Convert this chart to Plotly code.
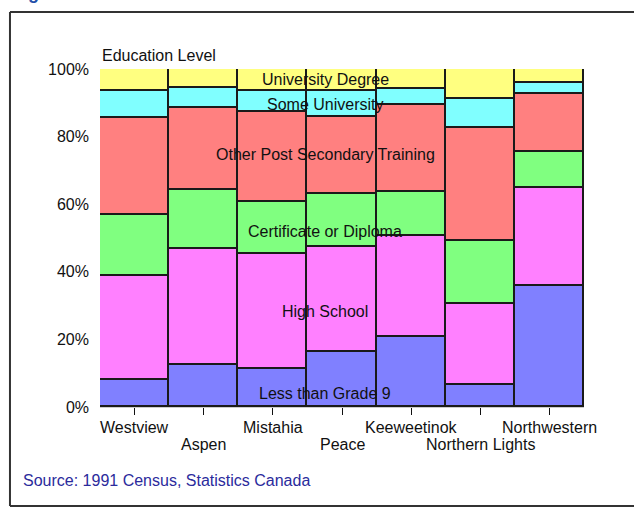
import plotly.graph_objects as go

regions = ["Westview", "Aspen", "Mistahia", "Peace", "Keeweetinok", "Northern Lights", "Northwestern"]

# percent of population by highest level of schooling (bottom to top)
less_than_grade9 = [8.0, 12.4, 11.2, 16.4, 20.6, 6.4, 35.7]
high_school = [30.8, 34.4, 34.2, 30.9, 30.1, 24.1, 29.0]
certificate = [18.0, 17.3, 15.4, 15.6, 13.0, 18.7, 10.6]
other_post_sec = [28.6, 24.4, 26.5, 23.0, 25.7, 33.2, 17.4]
some_university = [8.1, 5.9, 6.2, 7.5, 4.8, 8.8, 3.2]
university_degree = [6.5, 5.6, 6.5, 6.6, 5.8, 8.8, 4.1]

y_ticks = [0, 20, 40, 60, 80, 100]

series = [
    ("Less than Grade 9", less_than_grade9, "#8080ff", 3.9),
    ("High School", high_school, "#ff80ff", 28.2),
    ("Certificate or Diploma", certificate, "#80ff80", 51.9),
    ("Other Post Secondary Training", other_post_sec, "#ff8080", 74.7),
    ("Some University", some_university, "#80ffff", 89.4),
    ("University Degree", university_degree, "#ffff80", 96.8),
]

FONT = "Liberation Sans, Arial, sans-serif"

fig = go.Figure()
for name, vals, color, _ in series:
    fig.add_trace(go.Bar(
        x=list(range(len(regions))), y=vals, name=name,
        marker=dict(color=color, line=dict(color="#1a1a1a", width=1.6)),
    ))

annotations = []
for name, _, _, ylab in series:
    annotations.append(dict(
        x=0.465, xref="paper", y=ylab, yref="y", text=name, showarrow=False,
        font=dict(size=16, color="#111111"), xanchor="center", yanchor="middle",
    ))

# staggered category labels
for i, r in enumerate(regions):
    annotations.append(dict(
        x=i, xref="x", y=0, yref="paper", text=r, showarrow=False,
        yanchor="middle", xanchor="center", yshift=-20 if i % 2 == 0 else -37,
        font=dict(size=16, color="#111111"),
    ))

annotations.append(dict(
    x=0, xref="paper", y=1, yref="paper", text="Education Level", showarrow=False,
    xanchor="left", yanchor="middle", yshift=14, font=dict(size=16, color="#111111"),
))
annotations.append(dict(
    x=-0.186, xref="paper", y=-0.218, yref="paper", text="Source: 1991 Census, Statistics Canada",
    showarrow=False, xanchor="left", yanchor="middle", xshift=11,
    font=dict(size=16, color="#2b2b9c"),
))
annotations.append(dict(
    x=-0.186, xref="paper", y=1.189, yref="paper", text="<b>Figure 3  \u2014  Education Level</b>",
    showarrow=False, xanchor="left", yanchor="bottom", xshift=0,
    font=dict(size=18, color="#1f4fa8"),
))

# outer frame (open on the right, it runs past the page edge)
frame = dict(type="line", xref="paper", yref="paper", line=dict(color="#333333", width=2), layer="below")
shapes = [
    dict(frame, x0=-0.186, x1=1.2, y0=1.169, y1=1.169),
    dict(frame, x0=-0.186, x1=1.2, y0=-0.293, y1=-0.293),
    dict(frame, x0=-0.186, x1=-0.186, y0=-0.293, y1=1.169),
]

fig.update_layout(
    width=634, height=510,
    margin=dict(l=100, r=50, t=69, b=103),
    barmode="stack", bargap=0,
    showlegend=False,
    plot_bgcolor="white", paper_bgcolor="white",
    font=dict(family=FONT, size=16, color="#111111"),
    annotations=annotations,
    shapes=shapes,
    xaxis=dict(
        range=[-0.5, len(regions) - 0.5], tickvals=list(range(len(regions))), showticklabels=False,
        ticks="outside", ticklen=7, tickcolor="#111111", showgrid=False, zeroline=False,
        showline=True, linecolor="#cccccc", linewidth=1,
    ),
    yaxis=dict(
        range=[0, 100], tickvals=y_ticks, ticktext=[f"{v}%" for v in y_ticks],
        showgrid=False, zeroline=False, showline=False, ticks="",
        tickfont=dict(size=16), ticklabelstandoff=10,
    ),
)

fig.write_html(
    "out.html", config={"displayModeBar": False},
    post_script="document.body.style.margin='0';document.body.style.overflow='hidden';"
                "document.documentElement.style.overflow='hidden';",
)
